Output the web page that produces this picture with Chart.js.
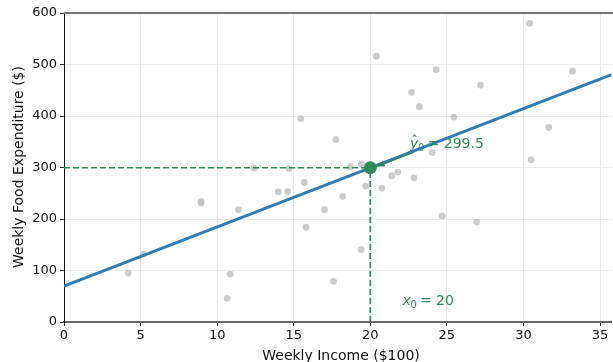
<!DOCTYPE html>
<html>
<head>
<meta charset="utf-8">
<script src="https://cdn.jsdelivr.net/npm/chart.js"></script>
<style>
html, body { margin: 0; padding: 0; background: #fff; overflow: hidden; }
#wrap { width: 618px; height: 362px; position: relative; }
</style>
</head>
<body>
<div id="wrap"><canvas id="chart"></canvas></div>
<script>
// observed households
const incomeX = [4.2, 5.2, 8.95, 8.95, 10.65, 10.85, 11.4, 12.4, 14.0, 14.6, 14.7, 15.45, 15.7, 15.8, 17.0, 17.6, 17.75, 18.2, 18.7, 19.4, 19.4, 19.7, 20.4, 20.75, 21.4, 21.8, 22.7, 22.85, 23.2, 24.05, 24.3, 24.7, 25.45, 26.95, 27.2, 30.4, 30.5, 31.65, 33.2];
const foodY = [95, 132, 234, 231, 46, 93, 218, 299, 253, 253, 298, 395, 271, 184, 218, 79, 354, 244, 302, 307, 141, 264, 516, 260, 284, 291, 446, 280, 418, 329, 490, 206, 398, 194, 460, 580, 315, 378, 487];

// fitted line end points
const fitX = [0, 35.75];
const fitY = [69.5, 480.3];

// prediction point
const x0 = 20;
const y0hat = 299.5;

const xTicks = [0, 5, 10, 15, 20, 25, 30, 35];
const yTicks = [0, 100, 200, 300, 400, 500, 600];

const GREEN = "#2e8b57";
const FONT = "'DejaVu Sans', sans-serif";

const points = incomeX.map((x, i) => ({ x: x, y: foodY[i] }));
const fitLine = fitX.map((x, i) => ({ x: x, y: fitY[i] }));

// titles, annotations and top frame line
const extras = {
  id: "extras",
  afterDraw(chart) {
    const ctx = chart.ctx;
    const xs = chart.scales.x, ys = chart.scales.y;
    const a = chart.chartArea;
    ctx.save();

    // top frame
    ctx.strokeStyle = "#777";
    ctx.lineWidth = 2;
    ctx.beginPath();
    ctx.moveTo(a.left, a.top);
    ctx.lineTo(a.right + 6, a.top);
    ctx.stroke();

    // axis titles
    ctx.fillStyle = "#111";
    ctx.font = "14px " + FONT;
    ctx.textAlign = "center";
    ctx.textBaseline = "alphabetic";
    ctx.fillText("Weekly Income ($100)", 341, 360);
    ctx.save();
    ctx.translate(23, 167);
    ctx.rotate(-Math.PI / 2);
    ctx.fillText("Weekly Food Expenditure ($)", 0, 0);
    ctx.restore();

    // arrow to the predicted point
    const ax1 = xs.getPixelForValue(22.85), ay1 = ys.getPixelForValue(330);
    const ax2 = xs.getPixelForValue(20.45), ay2 = ys.getPixelForValue(302.5);
    ctx.strokeStyle = GREEN;
    ctx.fillStyle = GREEN;
    ctx.lineWidth = 1.6;
    ctx.beginPath();
    ctx.moveTo(ax1, ay1);
    ctx.lineTo(ax2, ay2);
    ctx.stroke();
    const ang = Math.atan2(ay2 - ay1, ax2 - ax1);
    ctx.beginPath();
    ctx.moveTo(ax2, ay2);
    ctx.lineTo(ax2 - 8 * Math.cos(ang - 0.4), ay2 - 8 * Math.sin(ang - 0.4));
    ctx.lineTo(ax2 - 8 * Math.cos(ang + 0.4), ay2 - 8 * Math.sin(ang + 0.4));
    ctx.closePath();
    ctx.fill();

    // y-hat label
    ctx.textAlign = "left";
    let tx = xs.getPixelForValue(22.6), ty = ys.getPixelForValue(337);
    ctx.font = "italic 14px " + FONT;
    ctx.fillText("y", tx, ty);
    ctx.font = "14px " + FONT;
    ctx.fillText("\u02c6", tx + 1, ty - 2);
    ctx.font = "10px " + FONT;
    ctx.fillText("0", tx + 8, ty + 3);
    ctx.font = "14px " + FONT;
    ctx.fillText(" = 299.5", tx + 13, ty);

    // x0 label
    tx = xs.getPixelForValue(22.1);
    ty = ys.getPixelForValue(33);
    ctx.font = "italic 14px " + FONT;
    ctx.fillText("x", tx, ty);
    ctx.font = "10px " + FONT;
    ctx.fillText("0", tx + 8, ty + 3);
    ctx.font = "14px " + FONT;
    ctx.fillText(" = 20", tx + 13, ty);

    ctx.restore();
  }
};

new Chart(document.getElementById("chart"), {
  type: "scatter",
  data: {
    datasets: [
      {
        data: points,
        backgroundColor: "rgba(190,190,190,0.8)",
        borderWidth: 0,
        pointRadius: 3.4,
        order: 4
      },
      {
        data: fitLine,
        showLine: true,
        borderColor: "#2f7bb7",
        borderWidth: 3,
        pointRadius: 0,
        order: 3
      },
      {
        data: [{ x: 0, y: y0hat }, { x: x0, y: y0hat }],
        showLine: true,
        borderColor: GREEN,
        borderWidth: 1.7,
        borderDash: [6, 3],
        pointRadius: 0,
        order: 2
      },
      {
        data: [{ x: x0, y: 0 }, { x: x0, y: y0hat }],
        showLine: true,
        borderColor: GREEN,
        borderWidth: 1.7,
        borderDash: [6, 3],
        pointRadius: 0,
        order: 2
      },
      {
        data: [{ x: x0, y: y0hat }],
        backgroundColor: GREEN,
        borderWidth: 0,
        pointRadius: 6.5,
        order: 1
      }
    ]
  },
  options: {
    responsive: true,
    maintainAspectRatio: false,
    animation: false,
    layout: { padding: { top: 13, right: 0, left: 0, bottom: 0 } },
    plugins: { legend: { display: false }, tooltip: { enabled: false } },
    scales: {
      x: {
        type: "linear",
        min: 0,
        max: 35.75,
        afterBuildTicks: s => { s.ticks = xTicks.map(v => ({ value: v })); },
        afterFit: s => { s.height = 40; s.paddingLeft = 0; s.paddingRight = 0; },
        grid: { color: "#ebebeb", lineWidth: 1, tickLength: 4, tickColor: "#333" },
        border: { color: "#666", width: 2 },
        ticks: { color: "#111", font: { family: FONT, size: 13 }, padding: 2, maxRotation: 0 }
      },
      y: {
        min: 0,
        max: 600,
        afterBuildTicks: s => { s.ticks = yTicks.map(v => ({ value: v })); },
        afterFit: s => { s.width = 64; s.paddingTop = 0; s.paddingBottom = 0; },
        grid: { color: "#ebebeb", lineWidth: 1, tickLength: 4, tickColor: "#333" },
        border: { color: "#111", width: 1 },
        ticks: { color: "#111", font: { family: FONT, size: 13 }, padding: 3 }
      }
    }
  },
  plugins: [extras]
});
</script>
</body>
</html>
